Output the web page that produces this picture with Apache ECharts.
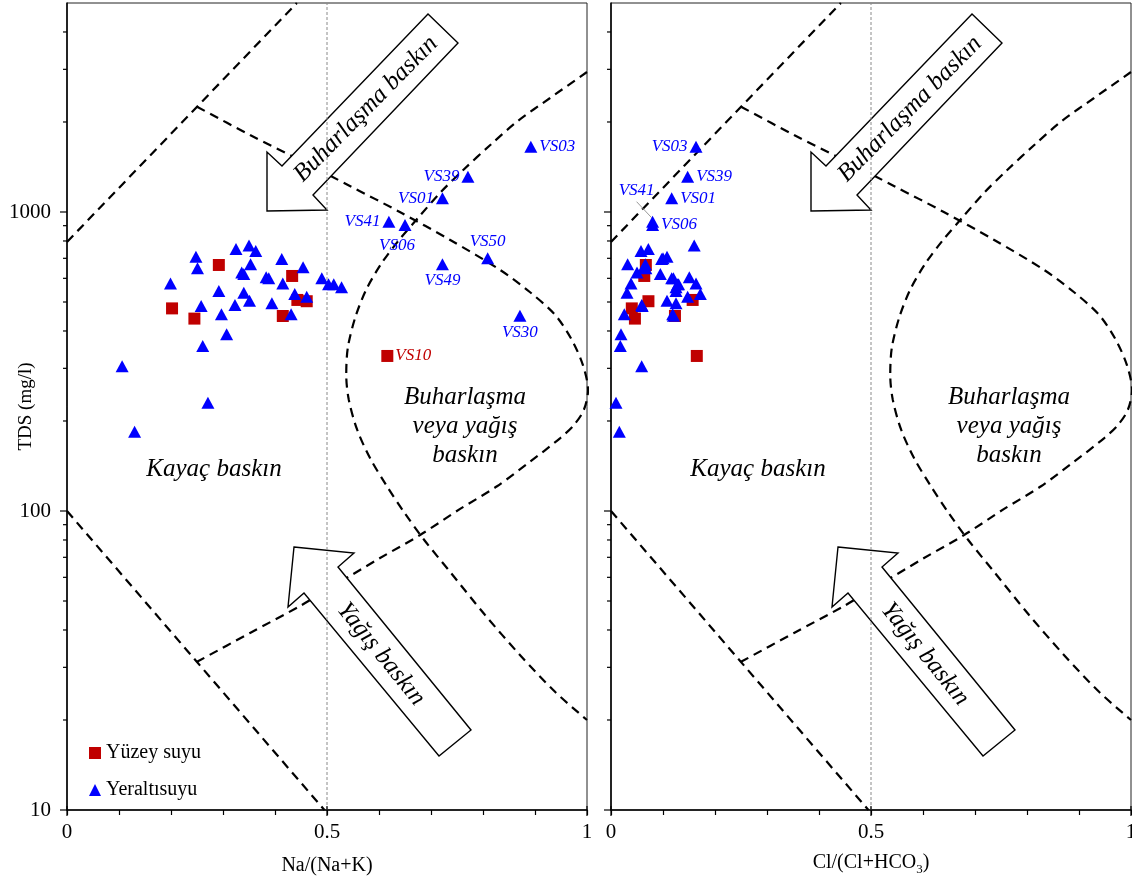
<!DOCTYPE html>
<html>
<head>
<meta charset="utf-8">
<script src="https://cdn.jsdelivr.net/npm/echarts@6/dist/echarts.min.js"></script>
<style>html,body{margin:0;padding:0;background:#fff}#c{width:1132px;height:879px}</style>
</head>
<body>
<div id="c"></div>
<script>
// ---------------- data ----------------
// Groundwater (Yeraltısuyu)
const gwLabels = ['VS03','VS39','VS01','VS41','VS06','VS49','VS50','VS30',
  '','','','','','','','','','','','','','','','','','','','','','','','','','','','','','','','',''];
const gwTDS = [1654,1312,1111,928,905,669,700,450,
  772,752,741,709,696,669,653,648,628,620,605,600,600,577,577,573,573,560,544,537,532,521,505,495,489,485,455,455,390,356,305,230,184];
const gwNa = [0.892,0.771,0.722,0.619,0.650,0.722,0.809,0.871,
  0.350,0.325,0.363,0.248,0.413,0.353,0.454,0.251,0.336,0.340,0.383,0.388,0.490,0.415,0.199,0.503,0.513,0.528,0.292,0.340,0.438,0.461,0.351,0.394,0.323,0.258,0.297,0.431,0.307,0.261,0.106,0.271,0.130];
const gwCl = [0.1635,0.1474,0.1167,0.080,0.080,0.066,0.100,0.120,
  0.160,0.0718,0.0577,0.1077,0.0974,0.032,0.064,0.067,0.050,0.0949,0.1506,0.1167,0.120,0.0385,0.1635,0.128,0.130,0.125,0.125,0.0308,0.1718,0.1474,0.1077,0.125,0.059,0.060,0.0256,0.1186,0.0192,0.0179,0.059,0.0096,0.016];

// Surface water (Yüzey suyu)
const swLabels = ['VS10','','','','','','',''];
const swTDS = [330,665,611,476,440,508,503,449];
const swNa = [0.616,0.292,0.433,0.202,0.245,0.443,0.461,0.415];
const swCl = [0.165,0.067,0.064,0.040,0.046,0.157,0.072,0.123];

// Gibbs boundary lines
const upperX = [0, 0.442];
const upperTDS = [794, 5000];
const lowerX = [0, 0.495];
const lowerTDS = [100, 10];
const innerX = [0.25,0.352,0.448,0.544,0.640,0.737,0.833,0.890,0.939,0.971,0.992,1.002,0.994,0.975,0.948,0.890,0.827,0.756,0.679,0.602,0.525,0.448,0.352,0.25];
const innerTDS = [2250,1809,1492,1222,1000,806,640,540,452,373,308,254,218,194,175,146,121,101.6,83.1,69.6,57.9,48.1,39.1,31.3];
const outerX = [1.0,0.929,0.867,0.814,0.762,0.717,0.675,0.637,0.604,0.575,0.554,0.540,0.537,0.542,0.558,0.583,0.614,0.648,0.687,0.737,0.804,0.871,0.939,1.0];
const outerTDS = [2939,2406,2016,1675,1382,1157,955,800,670,548,442,351,285,235,187,150,122,99.2,80,62.5,44.9,33,24.8,20];
const refX = 0.5;

// axis tick labels
const xTickLabels = ['0', '0.5', '1'];
const yTickLabels = ['10', '100', '1000'];
const xNames = ['Na/(Na+K)', '{a|Cl/(Cl+HCO}{s|3}{a|)}'];
const yName = 'TDS (mg/l)';

// ---------------- styles ----------------
const FONT = 'Liberation Serif';
const BLUE = '#0000FF', RED = '#C00000';
const labelCfg = [
  { VS03:{pos:'right'}, VS39:{pos:'left'}, VS01:{pos:'left'}, VS41:{pos:'left'},
    VS06:{pos:'bottom', off:[-8,4]}, VS49:{pos:'bottom'}, VS50:{pos:'top'}, VS30:{pos:'bottom'}, VS10:{pos:'right'} },
  { VS03:{pos:'left'}, VS39:{pos:'right'}, VS01:{pos:'right'}, VS06:{pos:'right'},
    VS41:{pos:'top', off:[-16,-15]} }
];

const GRID_LEFT = [67, 611];
const GRID_W = 520;
const NAME_GAP = [46, 40];

const yTicks = [];
for (let k = 1; k <= 3; k++) for (let m = 1; m <= 9; m++) { const v = m * Math.pow(10, k); if (v < 5000) yTicks.push(v); }

const chart = echarts.init(document.getElementById('c'));

function zip(a, b) { return a.map((v, i) => [v, b[i]]); }
const dashStyle = { color: '#000', width: 2.2, type: [9, 6] };

const series = [];
const xAxes = [], yAxes = [], grids = [];
for (let i = 0; i < 2; i++) {
  grids.push({ left: GRID_LEFT[i], width: GRID_W, top: 3, bottom: 69, show: true,
    borderColor: '#222', borderWidth: 1, outerBoundsMode: 'none', containLabel: false });
  xAxes.push({
    type: 'value', gridIndex: i, min: 0, max: 1, interval: 0.1,
    name: xNames[i], nameLocation: 'middle', nameGap: NAME_GAP[i], nameMoveOverlap: false,
    nameTextStyle: { fontFamily: FONT, fontSize: 20, color: '#000',
      rich: { a: { fontFamily: FONT, fontSize: 20, color: '#000', lineHeight: 26 },
              s: { fontFamily: FONT, fontSize: 13, color: '#000', verticalAlign: 'bottom', lineHeight: 26 } } },
    axisLine: { show: true, lineStyle: { color: '#000', width: 1.5 } },
    axisTick: { show: true, inside: false, length: 5, lineStyle: { color: '#000', width: 1.2 } },
    axisLabel: { margin: 12, fontFamily: FONT, fontSize: 21, color: '#000',
      formatter: v => { const s = String(Math.round(v * 10) / 10); return xTickLabels.indexOf(s) >= 0 ? s : ''; } },
    splitLine: { show: false }
  });
  yAxes.push({
    type: 'log', logBase: 10, gridIndex: i, min: 10, max: 5000,
    name: i === 0 ? yName : '', nameLocation: 'middle', nameGap: 31, nameMoveOverlap: false,
    nameTextStyle: { fontFamily: FONT, fontSize: 19, color: '#000' },
    axisLine: { show: true, lineStyle: { color: '#000', width: 1.5 } },
    axisTick: { show: false },
    axisLabel: { show: i === 0, margin: 16, fontFamily: FONT, fontSize: 21, color: '#000',
      formatter: v => { const s = String(Math.round(v)); return yTickLabels.indexOf(s) >= 0 ? s : ''; } },
    splitLine: { show: false }
  });

  const xsGW = i === 0 ? gwNa : gwCl;
  const xsSW = i === 0 ? swNa : swCl;
  const cfg = labelCfg[i];

  const lineBase = { type: 'line', xAxisIndex: i, yAxisIndex: i, showSymbol: false, symbol: 'none',
    silent: true, z: 3, lineStyle: dashStyle, clip: true };
  series.push(Object.assign({}, lineBase, { data: zip(upperX, upperTDS) }));
  series.push(Object.assign({}, lineBase, { data: zip(lowerX, lowerTDS) }));
  series.push(Object.assign({}, lineBase, { data: zip(innerX, innerTDS), smooth: 0.3 }));
  series.push(Object.assign({}, lineBase, { data: zip(outerX, outerTDS), smooth: 0.3 }));
  series.push({ type: 'line', xAxisIndex: i, yAxisIndex: i, showSymbol: false, symbol: 'none', silent: true, z: 10,
    lineStyle: { color: '#8a8a8a', width: 1, type: [3, 2] }, data: [[refX, 10], [refX, 5000]] });

  function mkItem(x, t, name, color) {
    const item = { value: [x, t], name: name };
    const c = cfg[name];
    if (c) {
      item.label = { show: true, position: c.pos, offset: c.off || [0, 0], distance: 2, formatter: name,
        fontFamily: FONT, fontStyle: 'italic', fontSize: 17, color: color };
    }
    return item;
  }
  series.push({ type: 'scatter', name: 'Yüzey suyu', xAxisIndex: i, yAxisIndex: i, symbol: 'rect', symbolSize: 12,
    itemStyle: { color: RED, opacity: 1 }, z: 30, label: { show: false },
    data: xsSW.map((x, j) => mkItem(x, swTDS[j], swLabels[j], RED)) });
  series.push({ type: 'scatter', name: 'Yeraltısuyu', xAxisIndex: i, yAxisIndex: i, symbol: 'triangle', symbolSize: [13, 12],
    itemStyle: { color: BLUE, opacity: 1 }, z: 31, label: { show: false },
    data: xsGW.map((x, j) => mkItem(x, gwTDS[j], gwLabels[j], BLUE)) });

  // y-axis ticks (major + minor at 2..9 of each decade)
  series.push({ type: 'custom', xAxisIndex: i, yAxisIndex: i, silent: true, z: 40,
    data: yTicks.map(v => [0, v]),
    renderItem: (params, api) => {
      const v = api.value(1); const p = api.coord([0, v]);
      const lg = Math.log10(v); const major = Math.abs(lg - Math.round(lg)) < 1e-9;
      const len = major ? 7 : 4;
      return { type: 'line', shape: { x1: p[0] - len, y1: p[1], x2: p[0], y2: p[1] }, style: { stroke: '#000', lineWidth: 1.2 } };
    } });
  // crossing major x ticks
  series.push({ type: 'custom', xAxisIndex: i, yAxisIndex: i, silent: true, z: 40,
    data: [[0, 10], [0.5, 10], [1, 10]],
    renderItem: (params, api) => {
      const p = api.coord([api.value(0), 10]);
      return { type: 'line', shape: { x1: p[0], y1: p[1] - 4, x2: p[0], y2: p[1] + 6 }, style: { stroke: '#000', lineWidth: 1.2 } };
    } });
}
// leader line for VS41 on the right panel
const vs41 = gwLabels.indexOf('VS41');
series.push({ type: 'custom', xAxisIndex: 1, yAxisIndex: 1, silent: true, z: 29,
  data: [[gwCl[vs41], gwTDS[vs41]]],
  renderItem: (params, api) => {
    const p = api.coord([api.value(0), api.value(1)]);
    return { type: 'line', shape: { x1: p[0] - 16, y1: p[1] - 20, x2: p[0] - 1, y2: p[1] - 4 }, style: { stroke: '#999', lineWidth: 1 } };
  } });

// annotations (arrows + region texts), relative to each grid's left edge
const arrow1 = [[200,211],[200,152],[215,166],[361,14],[391,43],[246,195],[260,210]];
const arrow2 = [[227,547],[287,553],[271,567],[404,730],[372,756],[237,593],[221,607]];
const graphics = [];
for (let i = 0; i < 2; i++) {
  const L = GRID_LEFT[i];
  [arrow1, arrow2].forEach(a => graphics.push({ type: 'polygon', z: 5, silent: true,
    shape: { points: a.map(p => [p[0] + L, p[1]]) }, style: { fill: '#fff', stroke: '#000', lineWidth: 1.4 } }));
  const txt = (text, x, y, rot, extra) => graphics.push(Object.assign({ type: 'text', z: 20, silent: true, x: x + L, y: y, rotation: rot,
    style: Object.assign({ text: text, fontFamily: FONT, fontStyle: 'italic', fontSize: 25, fill: '#000', align: 'center', verticalAlign: 'middle' }, extra || {}) }));
  txt('Buharlaşma baskın', 299, 109, 45.5 * Math.PI / 180);
  txt('Yağış baskın', 314, 654, -51 * Math.PI / 180);
  txt('Kayaç baskın', 147, 469, 0);
  txt('Buharlaşma\nveya yağış\nbaskın', 398, 426, 0, { lineHeight: 29 });
}

chart.setOption({
  backgroundColor: '#fff',
  animation: false,
  grid: grids,
  xAxis: xAxes,
  yAxis: yAxes,
  legend: {
    data: [{ name: 'Yüzey suyu', icon: 'rect' }, { name: 'Yeraltısuyu', icon: 'triangle' }],
    orient: 'vertical', left: 84, top: 738, itemWidth: 12, itemHeight: 12, itemGap: 17,
    selectedMode: false,
    textStyle: { fontFamily: FONT, fontSize: 20, color: '#000' }
  },
  graphic: graphics,
  series: series
});
</script>
</body>
</html>
